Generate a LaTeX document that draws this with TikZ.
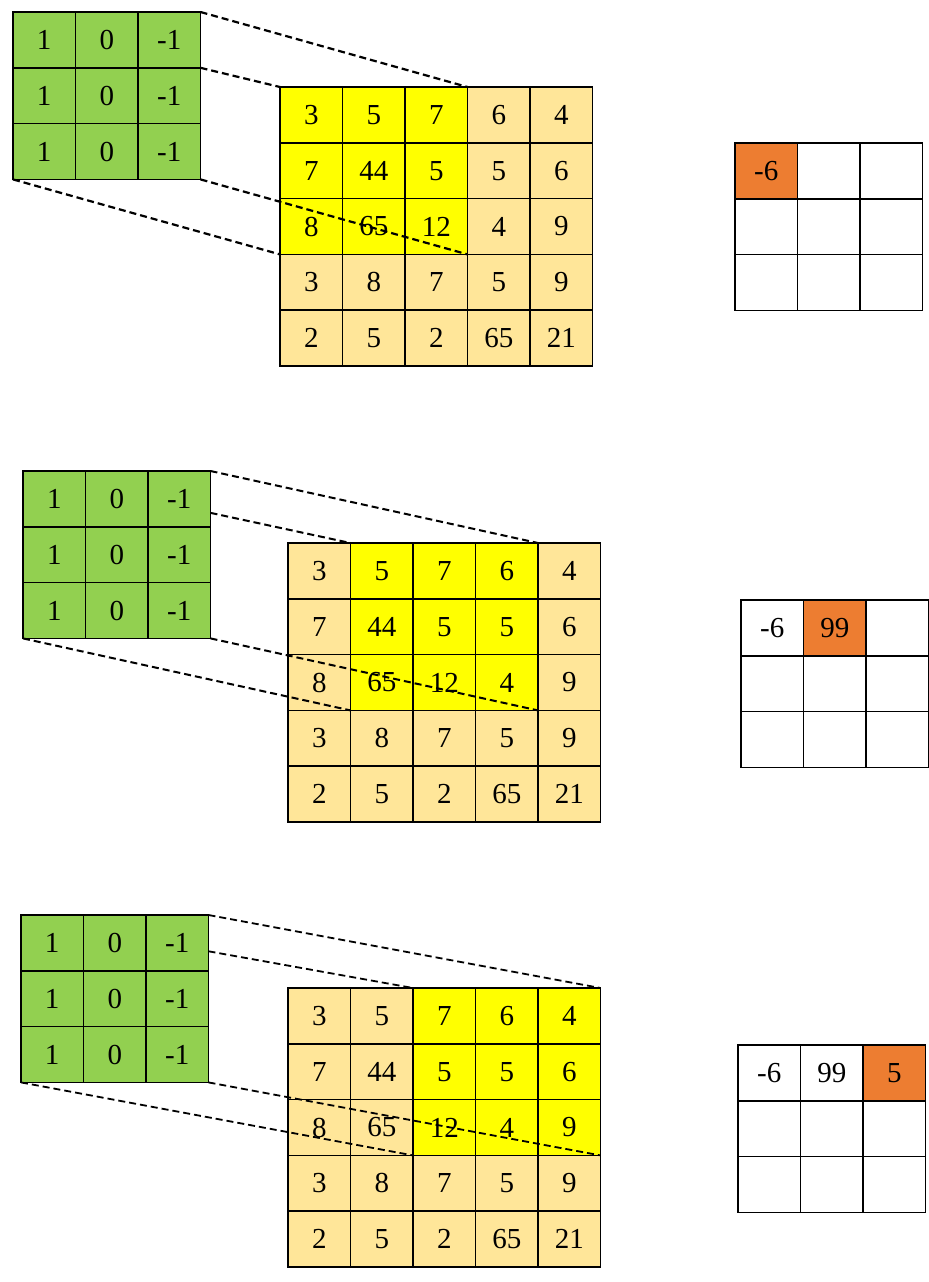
\documentclass[tikz,border=0pt]{standalone}
\usepackage{fontspec}
\setmainfont{Liberation Serif}
\usepackage{tikz}
\usetikzlibrary{calc}
\usepackage{xcolor}
\definecolor{kernelgreen}{HTML}{92D050}
\definecolor{winyellow}{HTML}{FFFF00}
\definecolor{gridsand}{HTML}{FFE699}
\definecolor{hitorange}{HTML}{ED7D31}

% 3x3 kernel, top left corner at (#2,#3)
\newcommand{\kernelgrid}[3]{%
	\foreach \row [count=\i from 0] in {{1,0,-1},{1,0,-1},{1,0,-1}}
		\foreach \v [count=\j from 0] in \row
			\node[cell, fill=kernelgreen] (#1-\i-\j) at ({#2+(\j+0.5)*62.5},{#3+(\i+0.5)*55.8}) {\v};
	\foreach \i in {0,1,2} \foreach \j in {0,1,2}
		\draw[rule] (#1-\i-\j.north west) rectangle (#1-\i-\j.south east);}

% 5x5 input, window of 3 columns starting at column #4
\newcommand{\inputgrid}[4]{%
	\foreach \row [count=\i from 0] in {{3,5,7,6,4},{7,44,5,5,6},{8,65,12,4,9},{3,8,7,5,9},{2,5,2,65,21}}
		\foreach \v [count=\j from 0] in \row {
			\pgfmathtruncatemacro\hit{(\i<3)&&(\j>=#4)&&(\j<#4+3)}
			\ifnum\hit=1 \def\cellcol{winyellow}\else\def\cellcol{gridsand}\fi
			\node[cell, fill=\cellcol] (#1-\i-\j) at ({#2+(\j+0.5)*62.5},{#3+(\i+0.5)*55.8}) {\v};
		}
	\foreach \i in {0,...,4} \foreach \j in {0,...,4}
		\draw[rule] (#1-\i-\j.north west) rectangle (#1-\i-\j.south east);}

% 3x3 output, orange cell in column #4, first row #5 #6 #7
\newcommand{\outputgrid}[7]{%
	\foreach \i in {0,1,2}
		\foreach \j in {0,1,2} {
			\def\cellcol{white}
			\ifnum\i=0 \ifnum\j=#4 \def\cellcol{hitorange}\fi\fi
			\node[cell, fill=\cellcol] (#1-\i-\j) at ({#2+(\j+0.5)*62.5},{#3+(\i+0.5)*55.8})
				{\ifnum\i=0 \ifcase\j #5\or #6\or #7\fi\fi};
		}
	\foreach \i in {0,1,2} \foreach \j in {0,1,2}
		\draw[rule] (#1-\i-\j.north west) rectangle (#1-\i-\j.south east);}

\begin{document}
\begin{tikzpicture}[
	x=0.5pt, y=-0.5pt,
	cell/.style={inner sep=0pt, outer sep=0pt,
		minimum width=31.25pt, minimum height=27.9pt,
		font=\fontsize{14.5}{17}\selectfont},
	rule/.style={draw=black, line width=0.85pt},
	window/.style={dash pattern=on 3.5pt off 2pt, line width=1.1pt},
	]
	\useasboundingbox (0,0) rectangle (929,1282);

	% first position
	\kernelgrid{fa}{13}{12}
	\inputgrid{ia}{280}{87}{0}
	\outputgrid{oa}{735}{143}{0}{-6}{}{}
	\draw[window] (fa-0-2.north east) -- (ia-0-2.north east);
	\draw[window] (fa-1-2.north east) -- (ia-0-0.north west);
	\draw[window] (fa-2-0.south west) -- (ia-2-0.south west);
	\draw[window] (fa-2-2.south east) -- (ia-2-2.south east);

	% second position
	\kernelgrid{fb}{23}{471}
	\inputgrid{ib}{288}{543}{1}
	\outputgrid{ob}{741}{600}{1}{-6}{99}{}
	\coordinate (fb-mid) at ($(fb-0-2.north east)!0.75!(fb-0-2.south east)$);
	\draw[window, line width=1pt] (fb-0-2.north east) -- (ib-0-3.north east);
	\draw[window, line width=1pt] (fb-mid) -- (ib-0-1.north west);
	\draw[window, line width=1pt] (fb-2-0.south west) -- (ib-2-1.south west);
	\draw[window, line width=1pt] (fb-2-2.south east) -- (ib-2-3.south east);

	% third position
	\kernelgrid{fc}{21}{915}
	\inputgrid{ic}{288}{988}{2}
	\outputgrid{oc}{738}{1045}{2}{-6}{99}{5}
	\coordinate (fc-mid) at ($(fc-0-2.north east)!0.65!(fc-0-2.south east)$);
	\draw[window, line width=0.9pt] (fc-0-2.north east) -- (ic-0-4.north east);
	\draw[window, line width=0.9pt] (fc-mid) -- (ic-0-2.north west);
	\draw[window, line width=0.9pt] (fc-2-0.south west) -- (ic-2-2.south west);
	\draw[window, line width=0.9pt] (fc-2-2.south east) -- (ic-2-4.south east);
\end{tikzpicture}
\end{document}
